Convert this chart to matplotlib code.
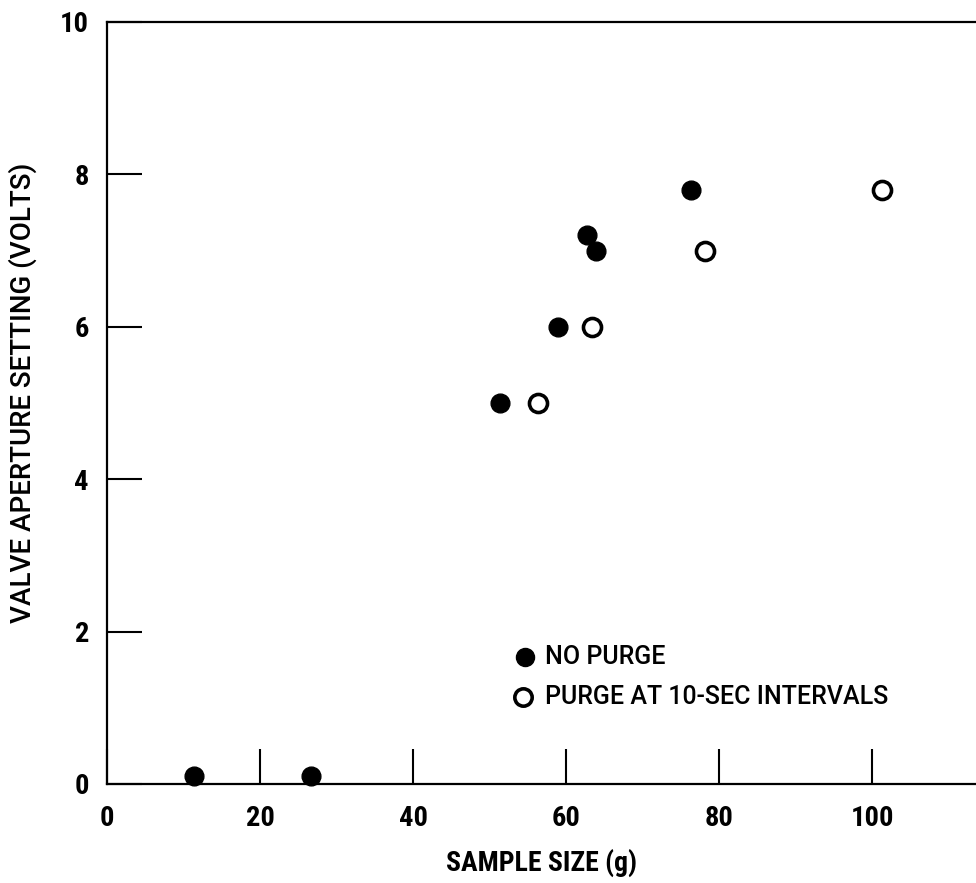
import matplotlib
matplotlib.use("Agg")
import matplotlib.pyplot as plt
from matplotlib import font_manager

# Valve aperture setting vs. sample size
no_purge_x = [11.4, 26.7, 51.4, 59.0, 62.7, 63.9, 76.3]
no_purge_y = [0.1, 0.1, 5.0, 6.0, 7.2, 7.0, 7.8]
purge_x = [56.3, 63.4, 78.2, 101.3]
purge_y = [5.0, 6.0, 7.0, 7.8]

x_ticks = [0, 20, 40, 60, 80, 100]
y_ticks = [0, 2, 4, 6, 8, 10]
legend_labels = ["NO PURGE", "PURGE AT 10-SEC INTERVALS"]

# pick a narrow sans face if one is installed
entries = font_manager.fontManager.ttflist
narrow = None
for pref in ["Roboto Condensed", "Liberation Sans Narrow", "Open Sans Condensed",
             "DejaVu Sans Condensed"]:
    if any(f.name == pref for f in entries):
        narrow = (pref, "normal")
        break
if narrow is None:
    cond = [f for f in entries if "condensed" in str(f.stretch).lower()]
    narrow = (cond[0].name, "condensed") if cond else ("DejaVu Sans", "condensed")

FONT = [narrow[0], "DejaVu Sans"]
WIDE = ["Roboto", "DejaVu Sans"]
plt.rcParams["font.family"] = FONT
plt.rcParams["font.stretch"] = narrow[1]

W, H = 976, 883
fig = plt.figure(figsize=(W / 100, H / 100), dpi=100)
px_per_x = 7.65
x_max = 115
ax = fig.add_axes([107 / W, (H - 784) / H, x_max * px_per_x / W, (784 - 22) / H])
ax.set_xlim(0, x_max)
ax.set_ylim(0, 10)

for s in ax.spines.values():
    s.set_linewidth(1.6)

ax.set_xticks(x_ticks)
ax.set_yticks(y_ticks)
ax.set_xticklabels([str(t) for t in x_ticks])
ax.set_yticklabels([str(t) for t in y_ticks])
ax.tick_params(direction="in", length=25, width=1.5, labelsize=20.5)
ax.tick_params(axis="x", pad=15)
ax.tick_params(axis="y", pad=13)
for lab in ax.get_xticklabels() + ax.get_yticklabels():
    lab.set_fontweight("semibold")

ax.plot(no_purge_x, no_purge_y, "o", ms=13.5, mfc="black", mec="black", clip_on=False)
ax.plot(purge_x, purge_y, "o", ms=13, mfc="white", mec="black", mew=2.6, clip_on=False)

# legend drawn as markers with text beside them
ax.plot([54.6], [1.67], "o", ms=13, mfc="black", mec="black")
ax.plot([54.4], [1.14], "o", ms=12.5, mfc="white", mec="black", mew=2.6)
ax.text(57.3, 1.67, legend_labels[0], family=WIDE, fontsize=18, fontweight="medium",
        va="center", ha="left")
ax.text(57.3, 1.14, legend_labels[1], family=WIDE, fontsize=18, fontweight="medium",
        va="center", ha="left")

fig.text(542 / W, 1 - 863 / H, "SAMPLE SIZE (g)", fontsize=20, fontweight="semibold",
         ha="center", va="center")
fig.text(23 / W, 1 - 393 / H, "VALVE APERTURE SETTING (VOLTS)", family=WIDE, fontsize=20,
         fontweight="medium", ha="center", va="center", rotation=90)

fig.savefig("out.png", dpi=100)
